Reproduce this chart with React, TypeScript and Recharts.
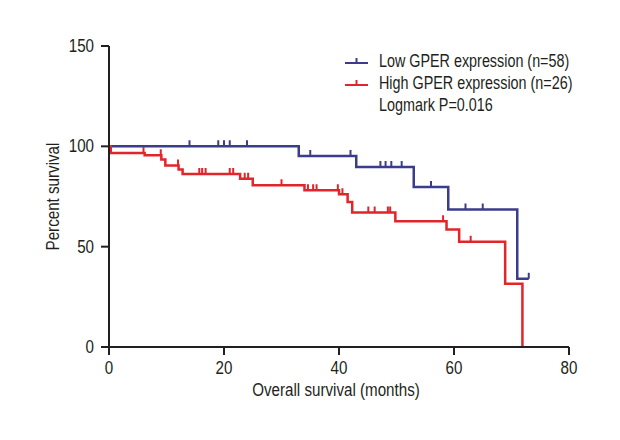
import { Line, LineChart, XAxis, YAxis } from "recharts";

// Kaplan-Meier steps: t = months, v = percent survival, c = censored mark
const LOW_T = [0, 14, 19, 20, 21, 24, 33, 35, 42, 43, 47.2, 48.1, 49.1, 50.9, 53, 56, 59, 62, 65, 71, 73];
const LOW_V = [100, 100, 100, 100, 100, 100, 95.2, 95.2, 95.2, 89.7, 89.7, 89.7, 89.7, 89.7, 79.7, 79.7, 68.5, 68.5, 68.5, 34, 34];
const LOW_C = [0, 1, 1, 1, 1, 1, 0, 1, 1, 0, 1, 1, 1, 1, 0, 1, 0, 1, 1, 0, 1];

const HIGH_T = [0, 0.3, 6, 6.2, 9, 9.1, 9.8, 12, 12.1, 12.8, 15.7, 16.2, 16.8, 21, 21.6, 22.8, 23.6, 24.2, 25, 30, 34, 34.6, 35.5, 36.1, 39.8, 40, 40.6, 41.5, 42.3, 45.1, 46.2, 48.5, 48.9, 49.8, 58.1, 58.7, 60.9, 62.9, 68.9, 71.9];
const HIGH_V = [100, 96.7, 96.7, 95.5, 95.5, 93.4, 90.5, 90.5, 88.4, 86.2, 86.2, 86.2, 86.2, 86.2, 86.2, 83.9, 83.9, 83.9, 80.6, 80.6, 78.1, 78.1, 78.1, 78.1, 78.1, 76.1, 76.1, 72.3, 67, 67, 67, 67, 67, 62.7, 62.7, 58.6, 52.4, 52.4, 31.5, 0];
const HIGH_C = [0, 0, 1, 0, 1, 0, 0, 1, 0, 0, 1, 1, 1, 1, 1, 0, 1, 1, 0, 1, 0, 1, 1, 1, 1, 0, 1, 0, 0, 1, 1, 1, 1, 0, 1, 0, 0, 1, 0, 0];

const X_TICKS = [0, 20, 40, 60, 80];
const Y_TICKS = [0, 50, 100, 150];

const LEGEND_ROWS = ["Low GPER expression (n=58)", "High GPER expression (n=26)", "Logmark P=0.016"];

const BLUE = "#3b3d8c";
const RED = "#e2242b";
const INK = "#231f20";
const FONT = "'Liberation Sans', Arial, sans-serif";
const SQUEEZE = 0.82; // condensed look of the original type

const lowData = LOW_T.map((t, i) => ({ t, v: LOW_V[i], c: LOW_C[i] }));
const highData = HIGH_T.map((t, i) => ({ t, v: HIGH_V[i], c: HIGH_C[i] }));

function censorDot(color: string) {
  return (p: any) => {
    if (!p.payload?.c) return <g key={`d${p.index}`} />;
    return (
      <line
        key={`d${p.index}`}
        x1={p.cx}
        x2={p.cx}
        y1={p.cy}
        y2={p.cy - 6}
        stroke={color}
        strokeWidth={2}
      />
    );
  };
}

function NarrowText({ x, y, anchor, rotate = 0, children }: any) {
  return (
    <g transform={`translate(${x},${y}) rotate(${rotate}) scale(${SQUEEZE},1)`}>
      <text
        x={0}
        y={0}
        textAnchor={anchor}
        dominantBaseline="central"
        fontSize={18.5}
        fontFamily={FONT}
        fill={INK}
      >
        {children}
      </text>
    </g>
  );
}

const XTick = (p: any) => (
  <NarrowText x={p.x} y={p.y + 9} anchor="middle">
    {p.payload.value}
  </NarrowText>
);

const YTick = (p: any) => (
  <NarrowText x={p.x - 1} y={p.y} anchor="end">
    {p.payload.value}
  </NarrowText>
);

function LegendBox() {
  const colors = [BLUE, RED, null];
  return (
    <div
      style={{
        position: "absolute",
        left: 337,
        top: 43,
        fontFamily: FONT,
        fontSize: 17.5,
        color: INK,
      }}
    >
      {LEGEND_ROWS.map((label, i) => (
        <div key={label} style={{ display: "flex", alignItems: "center", height: 21.7 }}>
          <svg width={34} height={20} style={{ flex: "none" }}>
            {colors[i] && (
              <g stroke={colors[i] as string} strokeWidth={2}>
                <line x1={0} x2={23} y1={11} y2={11} />
                <line x1={11.5} x2={11.5} y1={11} y2={6} />
              </g>
            )}
          </svg>
          <span
            style={{
              whiteSpace: "nowrap",
              display: "inline-block",
              transform: `scaleX(${SQUEEZE})`,
              transformOrigin: "left center",
            }}
          >
            {label}
          </span>
        </div>
      ))}
    </div>
  );
}

export default function App() {
  return (
    <div style={{ position: "relative", width: 612, height: 432 }}>
      <LineChart
        width={612}
        height={432}
        margin={{ top: 38, right: 51, bottom: 33, left: 0 }}
      >
        <XAxis
          type="number"
          dataKey="t"
          domain={[0, 80]}
          ticks={X_TICKS}
          allowDataOverflow
          height={60}
          stroke={INK}
          strokeWidth={2}
          tickSize={8}
          tickMargin={4}
          tick={<XTick />}
          label={{
            content: ({ viewBox }: any) => (
              <NarrowText x={viewBox.x + viewBox.width / 2 - 3} y={viewBox.y + 43} anchor="middle">
                Overall survival (months)
              </NarrowText>
            ),
          }}
        />
        <YAxis
          type="number"
          domain={[0, 150]}
          ticks={Y_TICKS}
          width={101}
          stroke={INK}
          strokeWidth={2}
          tickSize={8}
          tickMargin={6}
          tick={<YTick />}
          label={{
            content: ({ viewBox }: any) => (
              <NarrowText
                x={viewBox.x + 45}
                y={viewBox.y + viewBox.height / 2}
                anchor="middle"
                rotate={-90}
              >
                Percent survival
              </NarrowText>
            ),
          }}
        />
        <Line
          data={lowData}
          dataKey="v"
          type="stepAfter"
          stroke={BLUE}
          strokeWidth={2.5}
          dot={censorDot(BLUE)}
          activeDot={false}
          isAnimationActive={false}
        />
        <Line
          data={highData}
          dataKey="v"
          type="stepAfter"
          stroke={RED}
          strokeWidth={2.5}
          dot={censorDot(RED)}
          activeDot={false}
          isAnimationActive={false}
        />
      </LineChart>
      <LegendBox />
    </div>
  );
}
